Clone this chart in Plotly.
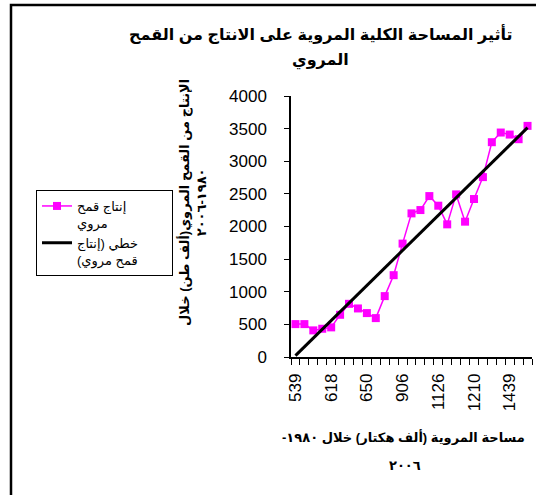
import numpy as np
import plotly.graph_objects as go

# Values (1980-2006, 27 years)
production = [504, 504, 408, 433, 454, 647, 815, 744, 673, 596, 933, 1254, 1738,
              2201, 2252, 2466, 2319, 2033, 2492, 2074, 2421, 2757, 3292, 3440,
              3409, 3338, 3542]
shown_area_labels = ["539", "618", "650", "906", "1126", "1210", "1439"]
label_every = 4

title_lines = ["تأثير المساحة الكلية المروية على الانتاج من القمح", "المروي"]
y_title_lines = ["الإنتاج من القمح المروي(ألف طن) خلال", "١٩٨٠-٢٠٠٦"]
x_title_lines = ["مساحة المروية (ألف هكتار) خلال ١٩٨٠-", "٢٠٠٦"]
series_lines = ["إنتاج قمح", "مروي"]
trend_lines = ["خطي (إنتاج", "قمح مروي)"]


def rtl(s):
    # right-to-left embedding so that edge punctuation sits as in the reference
    return "\u202b" + s + "\u202c"


spacer = "\u2800" * 3  # blank glyphs: widen the legend box like the reference
series_name = rtl(series_lines[0]) + spacer + "<br>" + rtl(series_lines[1])
trend_name = rtl(trend_lines[0]) + spacer + "<br>" + rtl(trend_lines[1])

n = len(production)
pos = np.arange(1, n + 1)
slope, intercept = np.polyfit(pos, production, 1)
trend_x = [pos[0], pos[-1]]
trend_y = [intercept + slope * v for v in trend_x]

FONT = "Arial, 'Liberation Sans', 'DejaVu Sans', sans-serif"
W, H = 536, 495
L, R, T, B = 291, 4, 96, 138
pw, ph = W - L - R, H - T - B


def px_x(x):
    return (x - L) / pw


def px_y(y):
    return (H - B - y) / ph


fig = go.Figure()
fig.add_trace(go.Scatter(
    x=pos, y=production, mode="lines+markers", name=series_name,
    line=dict(color="#FF00FF", width=1.5),
    marker=dict(symbol="square", size=8, color="#FF00FF"),
    cliponaxis=False,
))
fig.add_trace(go.Scatter(
    x=trend_x, y=trend_y, mode="lines", name=trend_name,
    line=dict(color="black", width=3),
))


def ann(text, x, y, size, angle=0):
    return dict(text=text, x=px_x(x), y=px_y(y), xref="paper", yref="paper",
                showarrow=False, textangle=angle,
                font=dict(size=size, family=FONT, weight="bold"),
                xanchor="center", yanchor="middle", align="center")


fig.update_layout(
    width=W, height=H,
    margin=dict(l=L, r=R, t=T, b=B, autoexpand=False),
    paper_bgcolor="white", plot_bgcolor="white",
    font=dict(family=FONT, color="black"),
    showlegend=True,
    legend=dict(
        x=px_x(36), y=px_y(190), xanchor="left", yanchor="top",
        bordercolor="black", borderwidth=1, bgcolor="white",
        font=dict(size=13, family=FONT), valign="top", tracegroupgap=4,
    ),
    xaxis=dict(
        range=[0.5, n + 0.5], showgrid=False, zeroline=False,
        showline=True, linecolor="black", linewidth=1.5,
        tickmode="array", tickvals=list(pos[::label_every]),
        ticktext=shown_area_labels, ticks="", tickangle=-90,
        tickfont=dict(size=17, family=FONT), ticklabelstandoff=8,
        minor=dict(ticks="outside", ticklen=6, tickcolor="black", tickwidth=1.2,
                   tickmode="linear", tick0=0.5, dtick=1, showgrid=False),
        automargin=False,
    ),
    yaxis=dict(
        range=[0, 4000], dtick=500, showgrid=False, zeroline=False,
        showline=True, linecolor="black", linewidth=1.5,
        ticks="outside", ticklen=5, tickcolor="black", tickwidth=1.2,
        tickfont=dict(size=17, family=FONT), ticklabelstandoff=14,
        automargin=False,
    ),
    annotations=[
        ann(rtl(title_lines[0]), 320, 34, 16),
        ann(rtl(title_lines[1]), 320, 61, 16),
        ann(rtl(y_title_lines[0]) + "<br>" + rtl(y_title_lines[1]), 192, 203, 13, -90),
        ann(rtl(x_title_lines[0]), 403, 437, 13),
        ann(rtl(x_title_lines[1]), 405, 465, 13),
    ],
    shapes=[
        dict(type="rect", xref="paper", yref="paper",
             x0=px_x(11), y0=px_y(5), x1=px_x(560), y1=px_y(520),
             line=dict(color="black", width=2.5), layer="above"),
    ],
)

fig.write_html("out.html", config={"displayModeBar": False},
               post_script="document.body.style.margin='0';")
